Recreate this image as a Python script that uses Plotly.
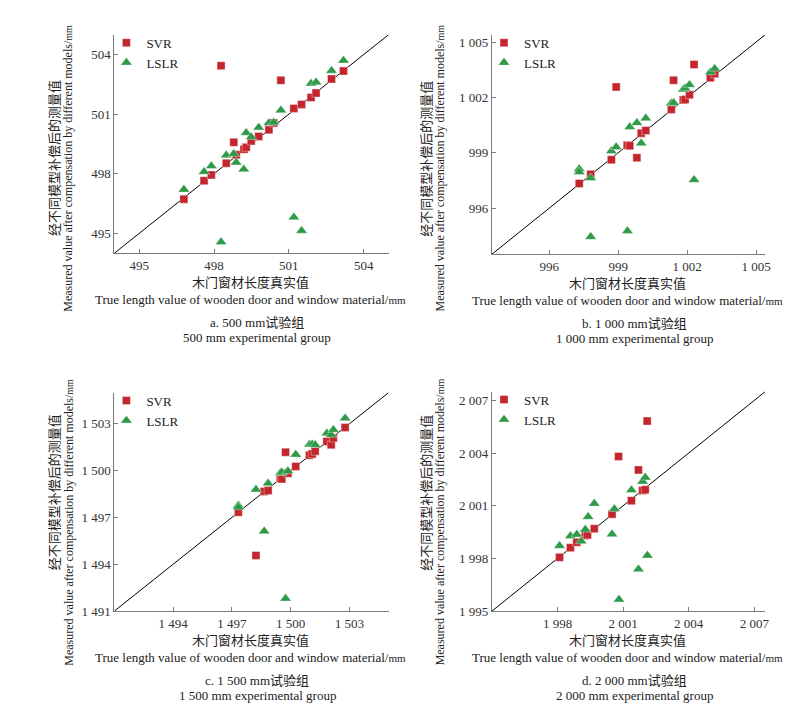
import plotly.graph_objects as go

# ---------------- data ----------------
# panel a: 500 mm group
a_svr_x = [496.79, 497.60, 497.89, 498.28, 498.49, 498.79, 498.89, 499.20, 499.29, 499.49,
           499.79, 500.20, 500.39, 500.68, 501.20, 501.51, 501.89, 502.09, 502.71, 503.19]
a_svr_y = [496.72, 497.65, 497.94, 503.44, 498.53, 499.58, 498.95, 499.23, 499.33, 499.65,
           499.88, 500.21, 500.56, 502.70, 501.29, 501.49, 501.84, 502.06, 502.77, 503.17]
a_lslr_x = [496.79, 497.60, 497.89, 498.28, 498.49, 498.79, 498.89, 499.19, 499.29, 499.49,
            499.79, 500.20, 500.39, 500.68, 501.20, 501.51, 501.89, 502.09, 502.71, 503.19]
a_lslr_y = [497.20, 498.10, 498.39, 494.56, 498.93, 499.00, 498.57, 498.22, 500.06, 499.85,
            500.33, 500.56, 500.58, 501.19, 495.81, 495.13, 502.54, 502.60, 503.19, 503.70]

# panel b: 1 000 mm group
b_svr_x = [997.30, 997.80, 998.70, 998.91, 999.39, 999.50, 999.81, 1000.00, 1000.20,
           1001.31, 1001.41, 1001.83, 1001.91, 1002.10, 1002.30, 1003.01, 1003.20]
b_svr_y = [997.33, 997.83, 998.62, 1002.57, 999.41, 999.38, 998.73, 1000.06, 1000.20,
           1001.35, 1002.93, 1001.86, 1001.89, 1002.14, 1003.78, 1003.06, 1003.28]
b_lslr_x = [997.30, 997.30, 997.80, 997.80, 998.70, 998.91, 999.40, 999.50, 999.81, 1000.00,
            1000.20, 1001.31, 1001.41, 1001.83, 1001.91, 1002.10, 1002.30, 1003.01, 1003.20]
b_lslr_y = [998.12, 997.96, 997.63, 994.44, 999.09, 999.31, 994.76, 1000.40, 1000.62, 999.52,
            1000.87, 1001.68, 1001.71, 1002.43, 1002.50, 1002.68, 997.53, 1003.37, 1003.56]

# panel c: 1 500 mm group
c_svr_x = [1497.33, 1498.23, 1498.65, 1498.85, 1499.47, 1499.55, 1499.74, 1499.86,
           1500.26, 1500.96, 1501.10, 1501.25, 1501.85, 1502.07, 1502.18, 1502.78]
c_svr_y = [1497.33, 1494.56, 1498.66, 1498.72, 1499.51, 1499.47, 1501.18, 1499.83,
           1500.27, 1500.99, 1501.07, 1501.24, 1501.86, 1501.65, 1502.09, 1502.77]
c_lslr_x = [1497.33, 1497.33, 1498.23, 1498.65, 1498.85, 1499.47, 1499.55, 1499.74, 1499.86,
            1500.26, 1500.96, 1501.10, 1501.25, 1501.85, 1502.07, 1502.18, 1502.78]
c_lslr_y = [1497.77, 1497.65, 1498.79, 1496.12, 1499.19, 1499.85, 1499.89, 1491.80, 1499.97,
            1501.03, 1501.67, 1501.69, 1501.65, 1502.39, 1502.30, 1502.62, 1503.36]

# panel d: 2 000 mm group
d_svr_x = [1998.09, 1998.59, 1998.88, 1999.27, 1999.37, 1999.68, 2000.49, 2000.79,
           2001.38, 2001.70, 2001.89, 2002.01, 2002.10]
d_svr_y = [1998.06, 1998.61, 1998.92, 1999.30, 1999.34, 1999.69, 2000.52, 2003.81,
           2001.29, 2003.04, 2001.87, 2001.91, 2005.82]
d_lslr_x = [1998.09, 1998.59, 1998.88, 1999.08, 1999.27, 1999.40, 1999.68, 2000.49, 2000.60,
            2000.81, 2001.38, 2001.70, 2001.89, 2002.01, 2002.11]
d_lslr_y = [1998.72, 1999.28, 1999.36, 1998.98, 1999.64, 2000.37, 2001.12, 1999.38, 2000.82,
            1995.66, 2001.89, 1997.38, 2002.38, 2002.61, 1998.17]

# axis ranges and ticks
a_range = [494, 505]
b_range = [993.5, 1005.4]
c_range = [1491, 1505]
d_range = [1995, 2007.5]
a_xticks = [495, 498, 501, 504]
a_yticks = [495, 498, 501, 504]
b_xticks = [996, 999, 1002, 1005]
b_yticks = [996, 999, 1002, 1005]
c_xticks = [1494, 1497, 1500, 1503]
c_yticks = [1491, 1494, 1497, 1500, 1503]
d_xticks = [1998, 2001, 2004, 2007]
d_yticks = [1995, 1998, 2001, 2004, 2007]

captions_cn = ["a. 500 mm试验组", "b. 1 000 mm试验组", "c. 1 500 mm试验组", "d. 2 000 mm试验组"]
captions_en = ["500 mm experimental group", "1 000 mm experimental group",
               "1 500 mm experimental group", "2 000 mm experimental group"]
xtitle_cn = "木门窗材长度真实值"
xtitle_en = "True length value of wooden door and window material/<span style='font-size:11px'>mm</span>"
ytitle_cn = "经不同模型补偿后的测量值"
ytitle_en = "Measured value after compensation by different models/<span style='font-size:10px'>mm</span>"

# ---------------- styling ----------------
W, H = 800, 704
RED = "#C4262E"
GREEN = "#2E9A48"
AXC = "#7a7a7a"
TXT = "#222222"
SERIF = "Liberation Serif, Times New Roman, Noto Sans CJK SC, serif"


def fmt(v):
    return f"{v:,}".replace(",", " ")


panels = [
    dict(svr=(a_svr_x, a_svr_y), lslr=(a_lslr_x, a_lslr_y), rng=a_range, xt=a_xticks, yt=a_yticks,
         xd=[107, 383], yd=[27, 248]),
    dict(svr=(b_svr_x, b_svr_y), lslr=(b_lslr_x, b_lslr_y), rng=b_range, xt=b_xticks, yt=b_yticks,
         xd=[487, 762], yd=[27, 249]),
    dict(svr=(c_svr_x, c_svr_y), lslr=(c_lslr_x, c_lslr_y), rng=c_range, xt=c_xticks, yt=c_yticks,
         xd=[107, 383], yd=[389, 610]),
    dict(svr=(d_svr_x, d_svr_y), lslr=(d_lslr_x, d_lslr_y), rng=d_range, xt=d_xticks, yt=d_yticks,
         xd=[487, 762], yd=[388, 610]),
]

fig = go.Figure()
layout = dict(width=W, height=H, margin=dict(l=0, r=0, t=0, b=0),
              paper_bgcolor="white", plot_bgcolor="white", showlegend=True,
              font=dict(family=SERIF, color=TXT, size=12))
annotations = []

for i, p in enumerate(panels):
    n = "" if i == 0 else str(i + 1)
    xa, ya = "x" + n, "y" + n
    lg = "legend" + n
    lo, hi = p["rng"]
    fig.add_trace(go.Scatter(x=[lo, hi], y=[lo, hi], mode="lines",
                             line=dict(color="black", width=1), showlegend=False,
                             xaxis=xa, yaxis=ya, hoverinfo="skip"))
    fig.add_trace(go.Scatter(x=p["svr"][0], y=p["svr"][1], mode="markers", name="SVR",
                             marker=dict(symbol="square", size=8, color=RED,
                                         line=dict(color="rgba(255,255,255,0.6)", width=0.6)),
                             xaxis=xa, yaxis=ya, legend=lg))
    fig.add_trace(go.Scatter(x=p["lslr"][0], y=p["lslr"][1], mode="markers", name="LSLR",
                             marker=dict(symbol="triangle-up", size=10, color=GREEN,
                                         line=dict(color="rgba(255,255,255,0.6)", width=0.6)),
                             xaxis=xa, yaxis=ya, legend=lg))
    common = dict(showline=True, linecolor=AXC, linewidth=1, showgrid=False, zeroline=False,
                  ticks="inside", ticklen=4, tickcolor=AXC, tickwidth=1,
                  tickfont=dict(family=SERIF, size=13, color="#333333"))
    layout["xaxis" + n] = dict(domain=[p["xd"][0] / W, p["xd"][1] / W], range=[lo, hi],
                               tickvals=p["xt"], ticktext=[fmt(v) for v in p["xt"]],
                               anchor=ya, **common)
    layout["yaxis" + n] = dict(domain=[1 - p["yd"][1] / H, 1 - p["yd"][0] / H], range=[lo, hi],
                               tickvals=p["yt"], ticktext=[fmt(v) for v in p["yt"]],
                               anchor=xa, **common)
    layout[lg] = dict(x=(p["xd"][0] - 8) / W, y=1 - (p["yd"][0] - 7) / H,
                      xanchor="left", yanchor="top", bgcolor="rgba(0,0,0,0)",
                      font=dict(family=SERIF, size=13, color=TXT), tracegroupgap=0)

    ax0, ax1 = p["xd"]
    ay0, ay1 = p["yd"]
    cx = (ax0 + ax1) / 2 - 1
    col_left = 47 if i % 2 == 0 else 421
    ycn = 152 if i < 2 else 490
    yen = 162 if i < 2 else 520

    def A(text, x, y, size=12, angle=0):
        annotations.append(dict(text=text, x=x / W, y=1 - y / H, xref="paper", yref="paper",
                                xanchor="center", yanchor="middle", showarrow=False,
                                textangle=angle, font=dict(family=SERIF, size=size, color=TXT)))

    A(xtitle_cn, cx, ay1 + 30, size=13)
    A(xtitle_en, cx, ay1 + 47, size=13)
    A(captions_cn[i], cx + 7, ay1 + 70, size=13)
    A(captions_en[i], cx + 7, ay1 + 85, size=13)
    A(ytitle_cn, col_left, ycn, size=13, angle=-90)
    A(ytitle_en, col_left + 14, yen, size=12, angle=-90)

layout["annotations"] = annotations
fig.update_layout(**layout)
fig.write_html("out.html")
